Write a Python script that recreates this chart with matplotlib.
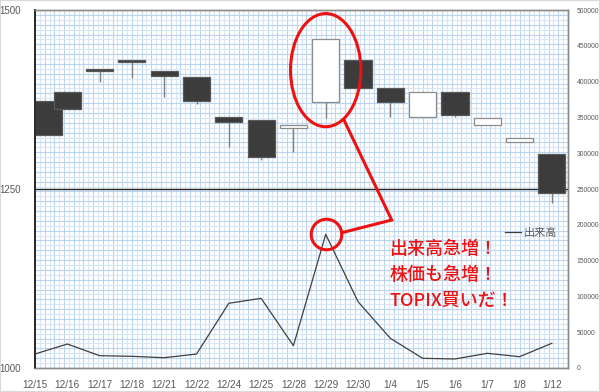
"""
TOPIX ローソク足 + 出来高
"""
import numpy as np
import matplotlib
matplotlib.use('Agg')
import matplotlib.pyplot as plt
from matplotlib.patches import Rectangle, Ellipse

plt.rcParams['font.family'] = ['Liberation Sans', 'Noto Sans CJK JP']

# データ
dates = ['12/15', '12/16', '12/17', '12/18', '12/21', '12/22', '12/24', '12/25', '12/28',
         '12/29', '12/30', '1/4', '1/5', '1/6', '1/7', '1/8', '1/12']
open_ = [1373, 1386, 1418, 1430, 1415, 1406, 1350, 1346, 1335, 1371, 1430, 1391, 1351, 1385, 1339, 1315, 1299]
close = [1325, 1362, 1415, 1427, 1408, 1373, 1343, 1295, 1340, 1459, 1391, 1371, 1385, 1353, 1349, 1321, 1245]
high = [1373, 1386, 1418, 1430, 1415, 1406, 1350, 1346, 1340, 1459, 1430, 1391, 1385, 1385, 1349, 1321, 1299]
low = [1325, 1362, 1400, 1405, 1379, 1369, 1309, 1290, 1302, 1349, 1390, 1350, 1351, 1351, 1339, 1315, 1230]
volume = [19500, 33500, 17200, 16300, 14400, 19500, 90400, 97300, 31200, 186700, 92600, 41500,
          13500, 12600, 20500, 15800, 34500]

price_ticks = [1000, 1250, 1500]
vol_ticks = list(range(0, 500001, 50000))
note_lines = ['出来高急増！', '株価も急増！', 'TOPIX買いだ！']

fig = plt.figure(figsize=(6.0, 3.92), dpi=100)
ax = fig.add_axes([35 / 600, 1 - 368 / 392, 533 / 600, 358 / 392])
ax2 = ax.twinx()

# 方眼紙風の背景
xs = np.linspace(0, 1, 111)
ys = np.linspace(0, 1, 74)
ax.vlines(xs[::2], 0, 1, transform=ax.transAxes, color='#bcd5ef', lw=0.8, zorder=0)
ax.vlines(xs[1::2], 0, 1, transform=ax.transAxes, color='#d8e7f6', lw=0.8, zorder=0)
ax.hlines(ys[::2], 0, 1, transform=ax.transAxes, color='#bcd5ef', lw=0.8, zorder=0)
ax.hlines(ys[1::2], 0, 1, transform=ax.transAxes, color='#d8e7f6', lw=0.8, zorder=0)

ax.set_xlim(0, len(dates) - 0.5)
ax.set_ylim(price_ticks[0], price_ticks[-1])
ax.axhline(price_ticks[1], color='#262626', lw=1.0, zorder=1)

# ローソク足
w = 0.84
for i in range(len(dates)):
    xc = max(i, w / 2)
    o, c = open_[i], close[i]
    ax.vlines(xc, low[i], high[i], color='#7f7f7f', lw=1.0, zorder=2)
    if c >= o:
        fc, ec = 'white', '#8c8c8c'
    else:
        fc, ec = '#3c3c3c', '#595959'
    ax.add_patch(Rectangle((xc - w / 2, min(o, c)), w, max(abs(c - o), 1.5),
                           facecolor=fc, edgecolor=ec, lw=0.9, zorder=3))

# 出来高
ax2.plot(range(len(dates)), volume, color='#404040', lw=0.9, label='出来高', zorder=3)
ax2.set_ylim(vol_ticks[0], vol_ticks[-1])
ax2.set_yticks(vol_ticks)
ax2.set_yticklabels([str(v) for v in vol_ticks], fontsize=4.9, color='#595959')
ax2.tick_params(axis='y', length=0, pad=6)

ax.set_yticks(price_ticks)
ax.set_yticklabels([str(v) for v in price_ticks], fontsize=7, color='#595959')
ax.set_xticks(range(len(dates)))
ax.set_xticklabels(dates, fontsize=7.2, color='#595959')
ax.tick_params(axis='y', length=0, pad=10)
ax.tick_params(axis='x', length=0, pad=9)

for a in (ax, ax2):
    for side in ('top', 'right', 'bottom'):
        a.spines[side].set_color('#8c8c8c')
        a.spines[side].set_linewidth(1.0)
    a.spines['left'].set_color('#262626')
    a.spines['left'].set_linewidth(1.2)

leg = ax2.legend(loc='center left', bbox_to_anchor=(505 / 600, 1 - 233 / 392),
                 bbox_transform=fig.transFigure, frameon=False, fontsize=8,
                 handlelength=1.4, handletextpad=0.3, borderpad=0, borderaxespad=0)
for t in leg.get_texts():
    t.set_color('#595959')

# 注目ポイント
red = '#ee1111'
peak = int(np.argmax(volume))
ax.add_patch(Ellipse((peak, 1416), 2.18, 158, fill=False, edgecolor=red, lw=2.2, zorder=5))
ax2.plot(peak, volume[peak], 'o', ms=22, mfc='none', mec=red, mew=2.2, zorder=5)
ax.plot([0.5797, 0.6692, 0.5754], [0.6927, 0.4134, 0.3779], color=red, lw=2.2,
        transform=ax.transAxes, zorder=5, solid_joinstyle='miter')

for k, line in enumerate(note_lines):
    ax.text(0.665, 0.332 - k * 0.0725, line, transform=ax.transAxes, color=red,
            fontsize=13, fontweight='medium', va='center', ha='left',
            family=['Noto Sans CJK JP'], zorder=6)

# 外枠
fig.patches.append(Rectangle((0, 0), 1, 1, transform=fig.transFigure, fill=False,
                             edgecolor='#d9d9d9', lw=1.5))

fig.savefig('out.png', dpi=100)
